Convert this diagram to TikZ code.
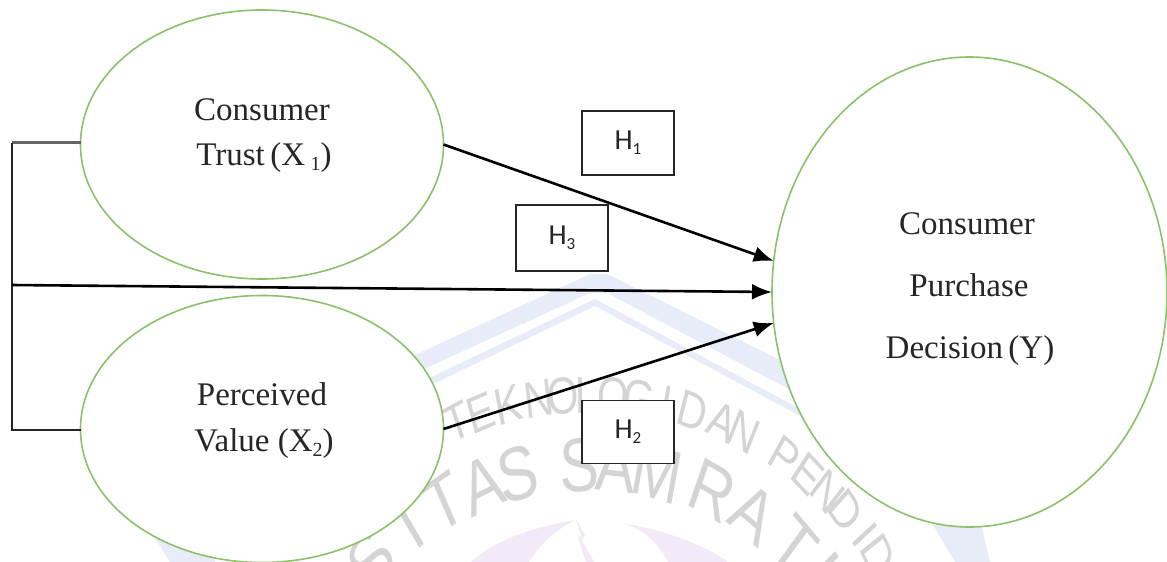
\documentclass[tikz,border=0pt]{standalone}
\usepackage{fontspec}
\setmainfont{Liberation Serif}
\newfontfamily\hfont{Carlito}
\newfontfamily\wmfont{Liberation Sans}
\usetikzlibrary{arrows.meta,shapes.geometric}
\newcommand{\lowtxt}[1]{\raisebox{-0.18em}{\fontsize{20}{20}\selectfont #1}}
\newcommand{\lowbox}[1]{\raisebox{-0.16em}{\fontsize{17}{17}\selectfont #1}}
\definecolor{ringgreen}{HTML}{8DC06A}
\definecolor{wmgray}{HTML}{D4D4D4}
\definecolor{wmblue}{HTML}{E8EBF8}
\definecolor{wmpurple}{HTML}{F3EAF8}
\tikzset{
  oval/.style={ellipse,draw=ringgreen,line width=1.6pt,fill=white,inner sep=0pt,outer sep=0pt},
  hbox/.style={rectangle,draw=black!85,line width=1.8pt,fill=white,inner sep=0pt,minimum width=92pt,minimum height=64pt,font=\hfont\fontsize{29}{32}\selectfont,text=black!85},
  ovaltext/.style={align=center,font=\fontsize{33}{45}\selectfont,text=black!85},
  arrowline/.style={line width=2.6pt,-{Latex[length=20pt,width=16pt]}},
  busline/.style={line width=2pt,draw=black!85},
  wmo/.style={font=\wmfont\fontsize{52}{52}\selectfont,text=wmgray,inner sep=0pt,xscale=0.78},
  wmi/.style={font=\wmfont\fontsize{76}{76}\selectfont,text=wmgray,inner sep=0pt,xscale=0.78}
}
\begin{document}
\begin{tikzpicture}[x=1pt,y=-1pt]
\path[use as bounding box] (0,0) rectangle (1167,562);
\clip (0,0) rectangle (1167,562);
% watermark
\fill[wmblue] (590,274) -- (607,274) -- (800,370) -- (800,395) -- (607,293) -- (590,293) -- (400,380) -- (400,362) -- cycle;
\fill[wmblue] (595,299) -- (830,425) -- (830,432) -- (595,306) -- (400,400) -- (400,392) -- cycle;
\fill[wmblue] (930,520) -- (980,520) -- (990,562) -- (955,562) -- cycle;
\fill[wmblue] (150,530) -- (215,530) -- (215,562) -- (170,562) -- cycle;
\fill[wmpurple] (575,520) .. controls (530,528) and (495,540) .. (471,562) -- (529,562) .. controls (540,545) and (555,530) .. cycle;
\fill[wmpurple] (622,523) .. controls (665,530) and (705,545) .. (728,562) -- (668,562) .. controls (660,545) and (645,530) .. cycle;
\fill[wmpurple] (575,517) -- (585,535) -- (582,540) -- (594,562) -- (586,562) -- (578,538) -- (581,535) -- cycle;
\foreach \c/\a [count=\i] in {T/-23,E/-18.7,K/-14,N/-8.7,O/-4.6,L/-0.6,O/3.9,G/8.3,I/13,D/17.5,A/23,N/27,P/35,E/39.8,N/44.3,D/48.8,I/54,D/58,I/63}
  \node[wmo,rotate=-\a] (wo\i) at ({590+340*sin(\a)},{735-340*cos(\a)}) {\c};
\foreach \c/\a [count=\i] in {R/-58,S/-47,I/-37,T/-29,A/-21,S/-14,S/-2,A/5,M/13,R/24,A/33,T/43,U/53}
  \node[wmi,rotate=-\a] (wi\i) at ({590+300*sin(\a)},{765-300*cos(\a)}) {\c};
% ovals
\node[oval,minimum width=363pt,minimum height=269pt] (x1) at (262,144.5) {};
\node[oval,minimum width=363pt,minimum height=267pt] (x2) at (262,429) {};
\node[oval,minimum width=395pt,minimum height=470pt] (y) at (969.5,292) {};
\node[ovaltext,anchor=base] (t1a) at (262,120) {Consumer};
\node[ovaltext,anchor=base] (t1b) at (264,165) {Trust\,(X\,\lowtxt{1})};
\node[ovaltext,anchor=base] (t2a) at (262,405) {Perceived};
\node[ovaltext,anchor=base] (t2b) at (264,451) {Value (X\lowtxt{2})};
\node[ovaltext,anchor=base] (t3a) at (967,234) {Consumer};
\node[ovaltext,anchor=base] (t3b) at (969,296) {Purchase};
\node[ovaltext,anchor=base] (t3c) at (970,358) {Decision\,(Y)};
% hypothesis boxes
\node[hbox] (h1) at (628,143) {H\lowbox{1}};
\node[hbox,minimum height=66pt] (h3) at (562,238) {H\lowbox{3}};
\node[hbox,minimum height=63pt] (h2) at (628,432) {H\lowbox{2}};
% connectors
\coordinate (busT) at (12,142.5);
\coordinate (busM) at (12,285);
\coordinate (busB) at (12,430);
\draw[line width=2.6pt,draw=black!60] (x1.west |- busT) -- (busT);
\draw[busline] (busT) -- (busB) -- (x2.west |- busB);
\draw[arrowline] (x1.east) -- (y.171);
\draw[arrowline] (busM) -- (y.west);
\draw[arrowline] (x2.east) -- (y.189.5);
\end{tikzpicture}
\end{document}
